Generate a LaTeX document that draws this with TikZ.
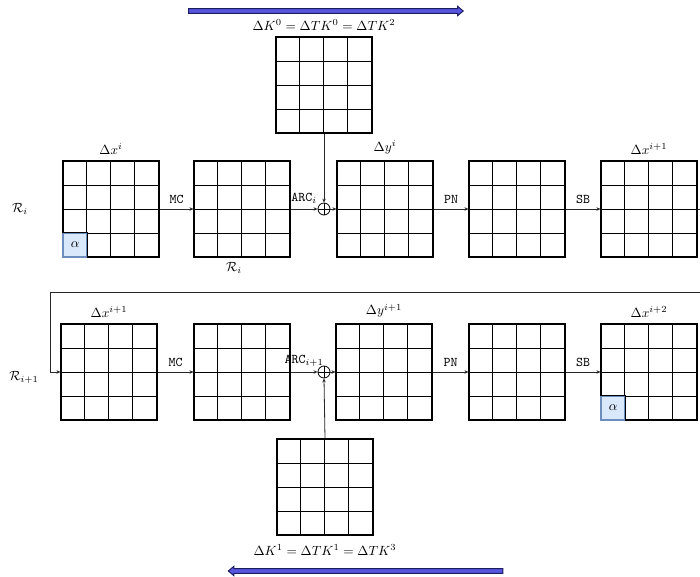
\documentclass[tikz,border=0pt]{standalone}
\usetikzlibrary{arrows.meta,positioning,shapes.arrows}
\definecolor{ink}{RGB}{0,0,0}
\definecolor{wire}{RGB}{40,40,40}
\definecolor{alphafill}{RGB}{218,232,252}
\definecolor{alphaline}{RGB}{108,142,191}
\definecolor{keyblue}{RGB}{86,86,222}
\definecolor{keyedge}{RGB}{28,28,96}
\tikzset{
  state/.style     = {draw=ink, line width=0.8pt, minimum size=72pt, inner sep=0pt},
  cellline/.style  = {draw=ink, line width=1.2pt},
  alphacell/.style = {draw=alphaline, line width=0.9pt, fill=alphafill,
                      minimum size=18pt, inner sep=0pt, anchor=south west},
  flow/.style      = {-{Stealth[length=3pt,width=2.6pt]}, draw=wire, line width=0.6pt},
  xor/.style       = {circle, draw=ink, line width=0.6pt, minimum size=9pt, inner sep=0pt,
                      path picture={\draw[line width=0.6pt]
                        (path picture bounding box.north) -- (path picture bounding box.south)
                        (path picture bounding box.west) -- (path picture bounding box.east);}},
  op/.style        = {font=\ttfamily, above, yshift=2pt, inner sep=2pt},
  lbl/.style       = {text=ink},
  keyarrow/.style  = {single arrow, draw=keyedge, fill=keyblue, line width=0.7pt,
                      minimum height=206pt, inner sep=1.4pt,
                      single arrow head extend=1.8pt, single arrow tip angle=80},
}
% 4x4 state grid, 18pt cells
\newcommand{\stategrid}[3]{%
  \node[state] (#1) at (#2,#3) {};
  \foreach \k in {1,2,3}{%
    \draw[cellline] ([xshift=\k*18pt]#1.south west) -- ([xshift=\k*18pt]#1.north west);
    \draw[cellline] ([yshift=\k*18pt]#1.south west) -- ([yshift=\k*18pt]#1.south east);
  }}

\begin{document}
\begin{tikzpicture}[x=0.75pt, y=-0.75pt]
\path[use as bounding box, clip] (0,0) rectangle (700,576);

% ======================================================= round i
\node[keyarrow] (keyinA) at (324.5,11) {};
\stategrid{keyA}{324}{85}
\node[lbl, above=1pt of keyA] (keyAlbl) {$\Delta K^0 = \Delta TK^0 = \Delta TK^2$};

\node[lbl] (roundA) at (20,209) {$\mathcal{R}_i$};

\stategrid{xinA}{111}{209}
\node[alphacell] (alphaA) at (xinA.south west) {$\alpha$};
\draw[cellline] (alphaA.north west) -- (alphaA.north east) -- (alphaA.south east);
\node[lbl, above=1pt of xinA] (xinAlbl) {$\Delta x^i$};

\stategrid{mcA}{242}{209}
\node[lbl] (mcAlbl) at (234,268) {$\mathcal{R}_i$};

\node[xor] (xorA) at (324,209) {};

\stategrid{yA}{385}{209}
\node[lbl, above=1pt of yA] (yAlbl) {$\Delta y^i$};

\stategrid{pnA}{517}{209}

\stategrid{xoutA}{649}{209}
\node[lbl, above=1pt of xoutA] (xoutAlbl) {$\Delta x^{i+1}$};

\draw[flow] (xinA.east) -- node[op] {MC} (mcA.west);
\draw[flow] (mcA.east) -- node[op] {ARC$_i$} (xorA.west);
\draw[flow] (keyA.south) -- (xorA.north);
\draw[flow] (xorA.east) -- (yA.west);
\draw[flow] (yA.east) -- node[op] {PN} (pnA.west);
\draw[flow] (pnA.east) -- node[op] {SB} (xoutA.west);

% ======================================================= round i+1
\node[lbl] (roundB) at (24,377) {$\mathcal{R}_{i+1}$};

\stategrid{xinB}{109}{372}
\node[lbl, above=1pt of xinB] (xinBlbl) {$\Delta x^{i+1}$};

\stategrid{mcB}{242}{372}

\node[xor] (xorB) at (324,372) {};

\stategrid{yB}{384}{372}
\node[lbl, above=1pt of yB] (yBlbl) {$\Delta y^{i+1}$};

\stategrid{pnB}{517}{372}

\stategrid{xoutB}{649}{372}
\node[alphacell] (alphaB) at (xoutB.south west) {$\alpha$};
\draw[cellline] (alphaB.north west) -- (alphaB.north east) -- (alphaB.south east);
\node[lbl, above=1pt of xoutB] (xoutBlbl) {$\Delta x^{i+2}$};

\stategrid{keyB}{325}{487}
\node[lbl, below=3pt of keyB] (keyBlbl) {$\Delta K^1 = \Delta TK^1 = \Delta TK^3$};
\node[keyarrow, shape border rotate=180] (keyinB) at (367,571) {};

% loop from the end of round i back into round i+1
\coordinate (turnR) at (720,292);
\coordinate (turnL) at (50,292);
\draw[flow] (xoutA.east) -| (turnR) -- (turnL) |- (xinB.west);

\draw[flow] (xinB.east) -- node[op] {MC} (mcB.west);
\draw[flow] (mcB.east) -- node[op] {ARC$_{i+1}$} (xorB.west);
\draw[flow] (keyB.north) -- (xorB.south);
\draw[flow] (xorB.east) -- (yB.west);
\draw[flow] (yB.east) -- node[op] {PN} (pnB.west);
\draw[flow] (pnB.east) -- node[op] {SB} (xoutB.west);

\end{tikzpicture}
\end{document}
